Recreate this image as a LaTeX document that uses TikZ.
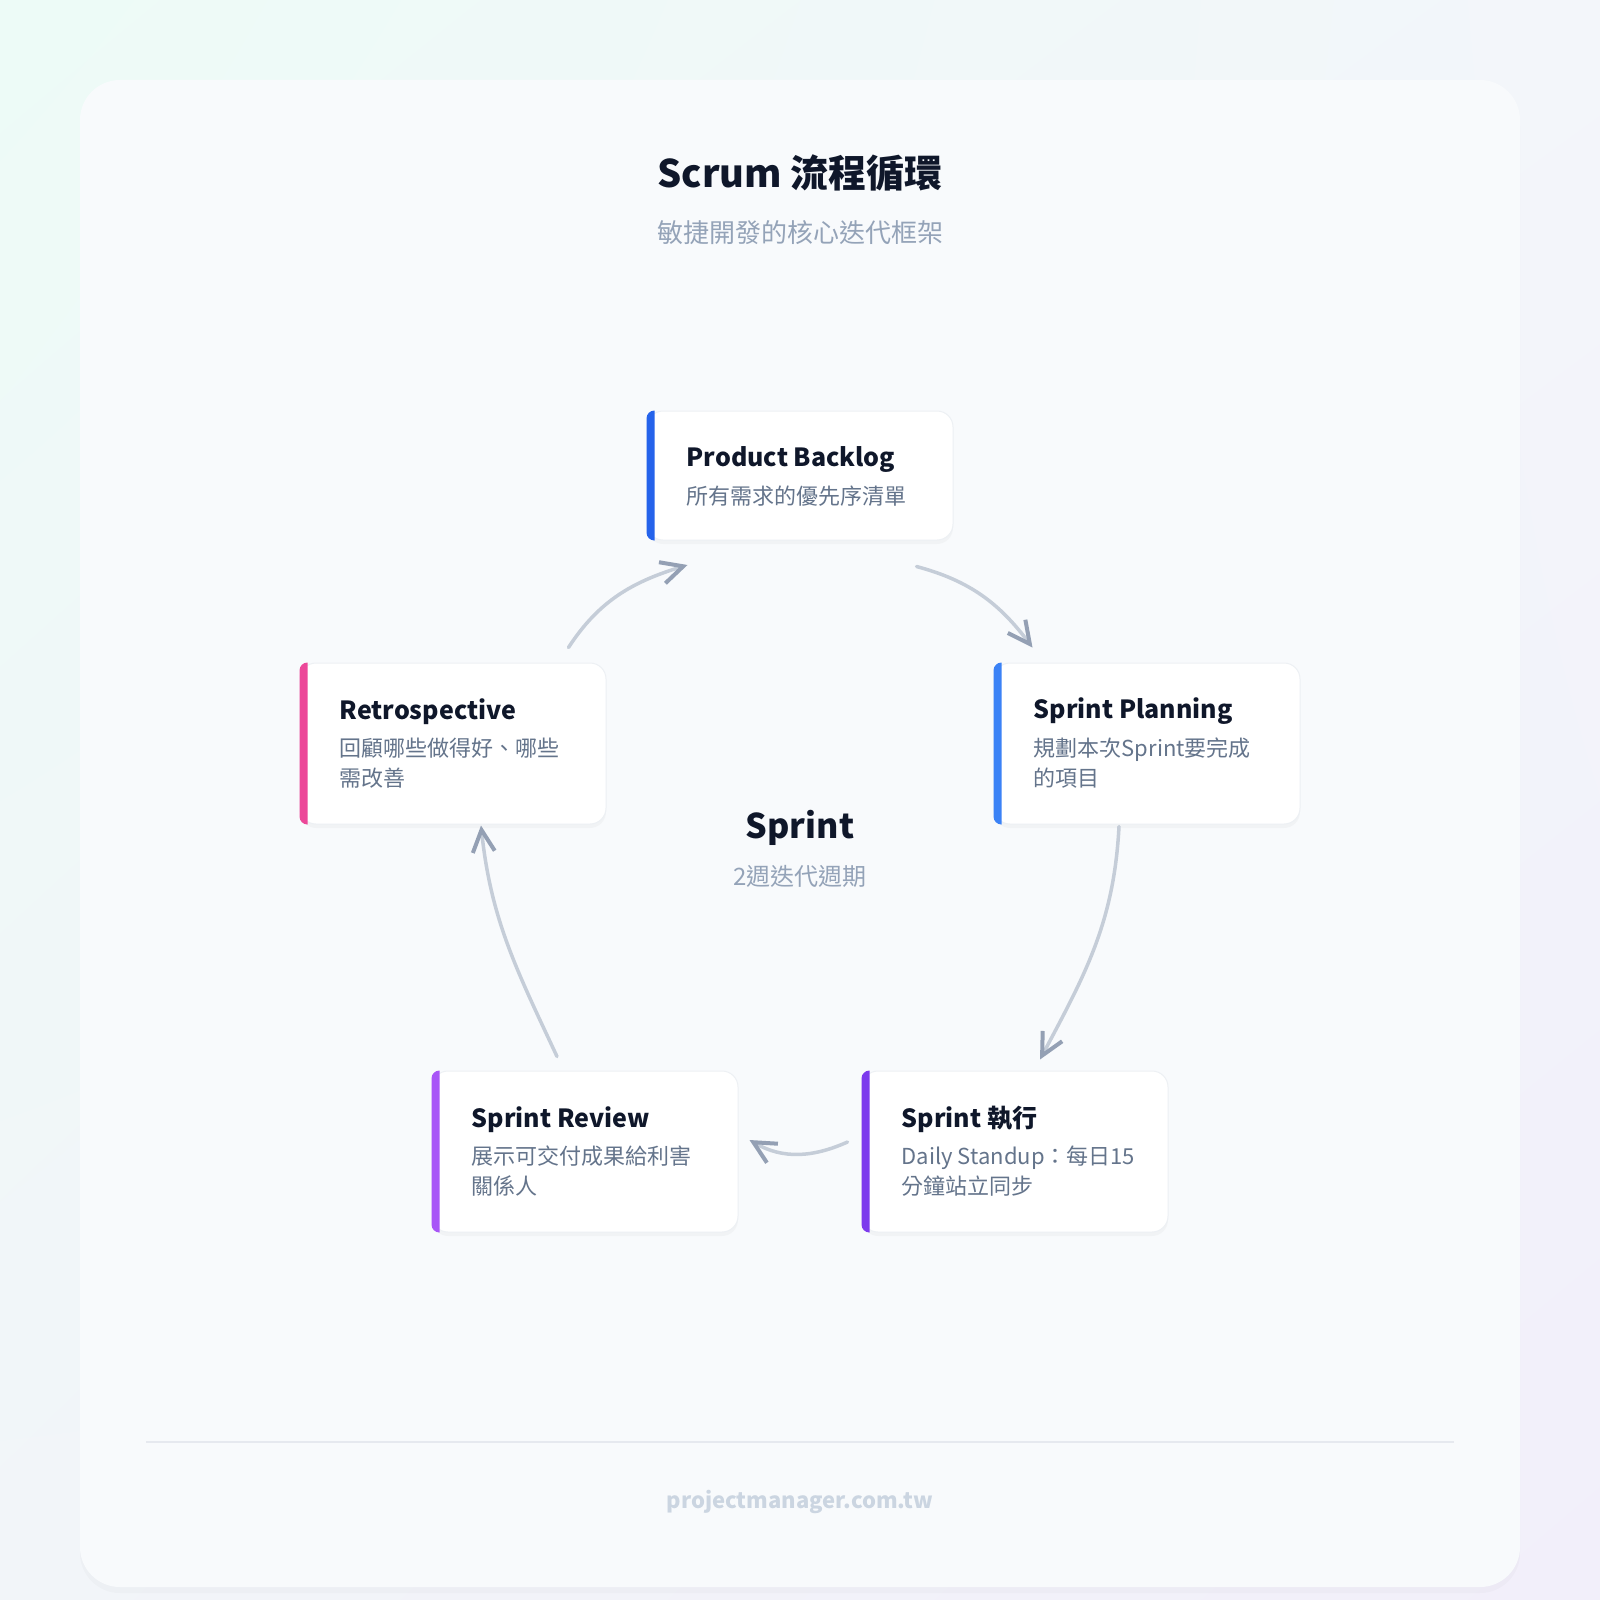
\documentclass[tikz,border=0pt]{standalone}
\usepackage{fontspec}
\setmainfont{Noto Sans CJK TC}
\usetikzlibrary{arrows.meta}
\usetikzlibrary{positioning}
\usetikzlibrary{calc, shadows, shadings}
\definecolor{ink}{HTML}{0F172A}
\definecolor{muted}{HTML}{64748B}
\definecolor{soft}{HTML}{94A3B8}
\definecolor{faint}{HTML}{CBD5E1}
\definecolor{boxline}{HTML}{EDF0F4}
\definecolor{footline}{HTML}{E6E9EF}
\definecolor{flowline}{HTML}{C5CDD8}
\definecolor{flowhead}{HTML}{94A0B4}
\definecolor{barA}{HTML}{2563EB}
\definecolor{barB}{HTML}{3B82F6}
\definecolor{barC}{HTML}{7C3AED}
\definecolor{barD}{HTML}{A855F7}
\definecolor{barE}{HTML}{EC4899}
\definecolor{bgA}{HTML}{EDFBF7}
\definecolor{bgB}{HTML}{F3F6FA}
\definecolor{bgC}{HTML}{F2F5F9}
\definecolor{bgD}{HTML}{F2EFFA}
\definecolor{cardfill}{HTML}{F8FAFC}

\begin{document}
\begin{tikzpicture}[x=1pt,y=1pt]
 \tikzstyle{title node}=[anchor=west,inner sep=0,text=ink,font=\bfseries\fontsize{25}{30}\selectfont]
 \tikzstyle{desc node}=[anchor=north west,inner sep=0,align=left,text=muted,font=\fontsize{22}{30}\selectfont]
 \tikzset{
 	card node/.style={rectangle,rounded corners=16,fill=white,draw=boxline,line width=1,inner sep=0,
 		minimum width=306,minimum height=161,
 		drop shadow={opacity=0.05,shadow xshift=0pt,shadow yshift=-4pt}},
 	flow/.style={draw=flowline,line width=3.5,line cap=round,
 		-{Straight Barb[length=22pt,width=22pt,line width=4pt,color=flowhead]}}
 }

 \useasboundingbox (0,0) rectangle (1600,-1600);
 \shade[upper left=bgA,upper right=bgB,lower left=bgC,lower right=bgD] (0,0) rectangle (1600,-1600);
 \fill[cardfill,rounded corners=40,drop shadow={opacity=0.04,shadow xshift=0pt,shadow yshift=-6pt}] (80,-80) rectangle (1520,-1587);

       \node[inner sep=0,text=ink,font=\bfseries\fontsize{38}{44}\selectfont] (T) at (800,-173) {Scrum 流程循環};
       \node[inner sep=0,text=soft,font=\fontsize{26}{30}\selectfont] (ST) at (800,-233) {敏捷開發的核心迭代框架};

       \node[card node,minimum height=129] (pb) at (800,-475.5) {};
       \node[card node] (sp) at (1147,-743.5) {};
       \node[card node] (se) at (1015,-1151.5) {};
       \node[card node] (sr) at (585,-1151.5) {};
       \node[card node] (re) at (453,-743.5) {};

     % coloured strip on the left of each card
     \foreach \n/\c in {pb/barA,sp/barB,se/barC,sr/barD,re/barE}
       \fill[\c] ([xshift=8]\n.north west) arc[start angle=90,end angle=180,radius=8]
         -- ([yshift=8]\n.south west) arc[start angle=180,end angle=270,radius=8] -- cycle;

       \node[title node] (pbt) at ([xshift=40,yshift=-49]pb.north west) {Product Backlog};
       \node[desc node] (pbd) at ([xshift=40,yshift=-75]pb.north west) {所有需求的優先序清單};
       \node[title node] (spt) at ([xshift=40,yshift=-49]sp.north west) {Sprint Planning};
       \node[desc node] (spd) at ([xshift=40,yshift=-75]sp.north west) {規劃本次Sprint要完成\\的項目};
       \node[title node] (set) at ([xshift=40,yshift=-49]se.north west) {Sprint 執行};
       \node[desc node] (sed) at ([xshift=40,yshift=-75]se.north west) {Daily Standup：每日15\\分鐘站立同步};
       \node[title node] (srt) at ([xshift=40,yshift=-49]sr.north west) {Sprint Review};
       \node[desc node] (srd) at ([xshift=40,yshift=-75]sr.north west) {展示可交付成果給利害\\關係人};
       \node[title node] (ret) at ([xshift=40,yshift=-49]re.north west) {Retrospective};
       \node[desc node] (red) at ([xshift=40,yshift=-75]re.north west) {回顧哪些做得好、哪些\\需改善};

       \node[inner sep=0,text=ink,font=\bfseries\fontsize{34}{40}\selectfont] (S) at (800,-828) {Sprint};
       \node[inner sep=0,text=soft,font=\fontsize{24}{28}\selectfont] (SS) at (800,-876) {2週迭代週期};

     % connector ends, just off the cards
     \coordinate (f1s) at ([shift={(-37,-26)}]pb.south east);
     \coordinate (f1e) at ([shift={(39,15)}]sp.north west);
     \coordinate (f2s) at ([shift={(-28,-2)}]sp.south);
     \coordinate (f2e) at ([shift={(25,11)}]se.north);
     \coordinate (f3s) at ([shift={(-14,9.5)}]se.west);
     \coordinate (f3e) at ([shift={(11,11.5)}]sr.east);
     \coordinate (f4s) at ([shift={(-28,14)}]sr.north);
     \coordinate (f4e) at ([shift={(28,-1)}]re.south);
     \coordinate (f5s) at ([shift={(-38,15)}]re.north east);
     \coordinate (f5e) at ([shift={(41,-24.5)}]pb.south west);

     \draw[flow] (f1s) to[out=-15,in=127] (f1e);
     \draw[flow] (f2s) to[out=-93,in=62] (f2e);
     \draw[flow] (f3s) to[out=-156,in=-30] (f3e);
     \draw[flow] (f4s) to[out=115,in=-84] (f4e);
     \draw[flow] (f5s) to[out=57,in=197] (f5e);

     \draw[footline,line width=1.5] (146,-1442) -- (1454,-1442);
       \node[inner sep=0,text=faint,font=\bfseries\fontsize{22}{26}\selectfont] (W) at (800,-1502) {projectmanager.com.tw};
 \end{tikzpicture}
\end{document}
